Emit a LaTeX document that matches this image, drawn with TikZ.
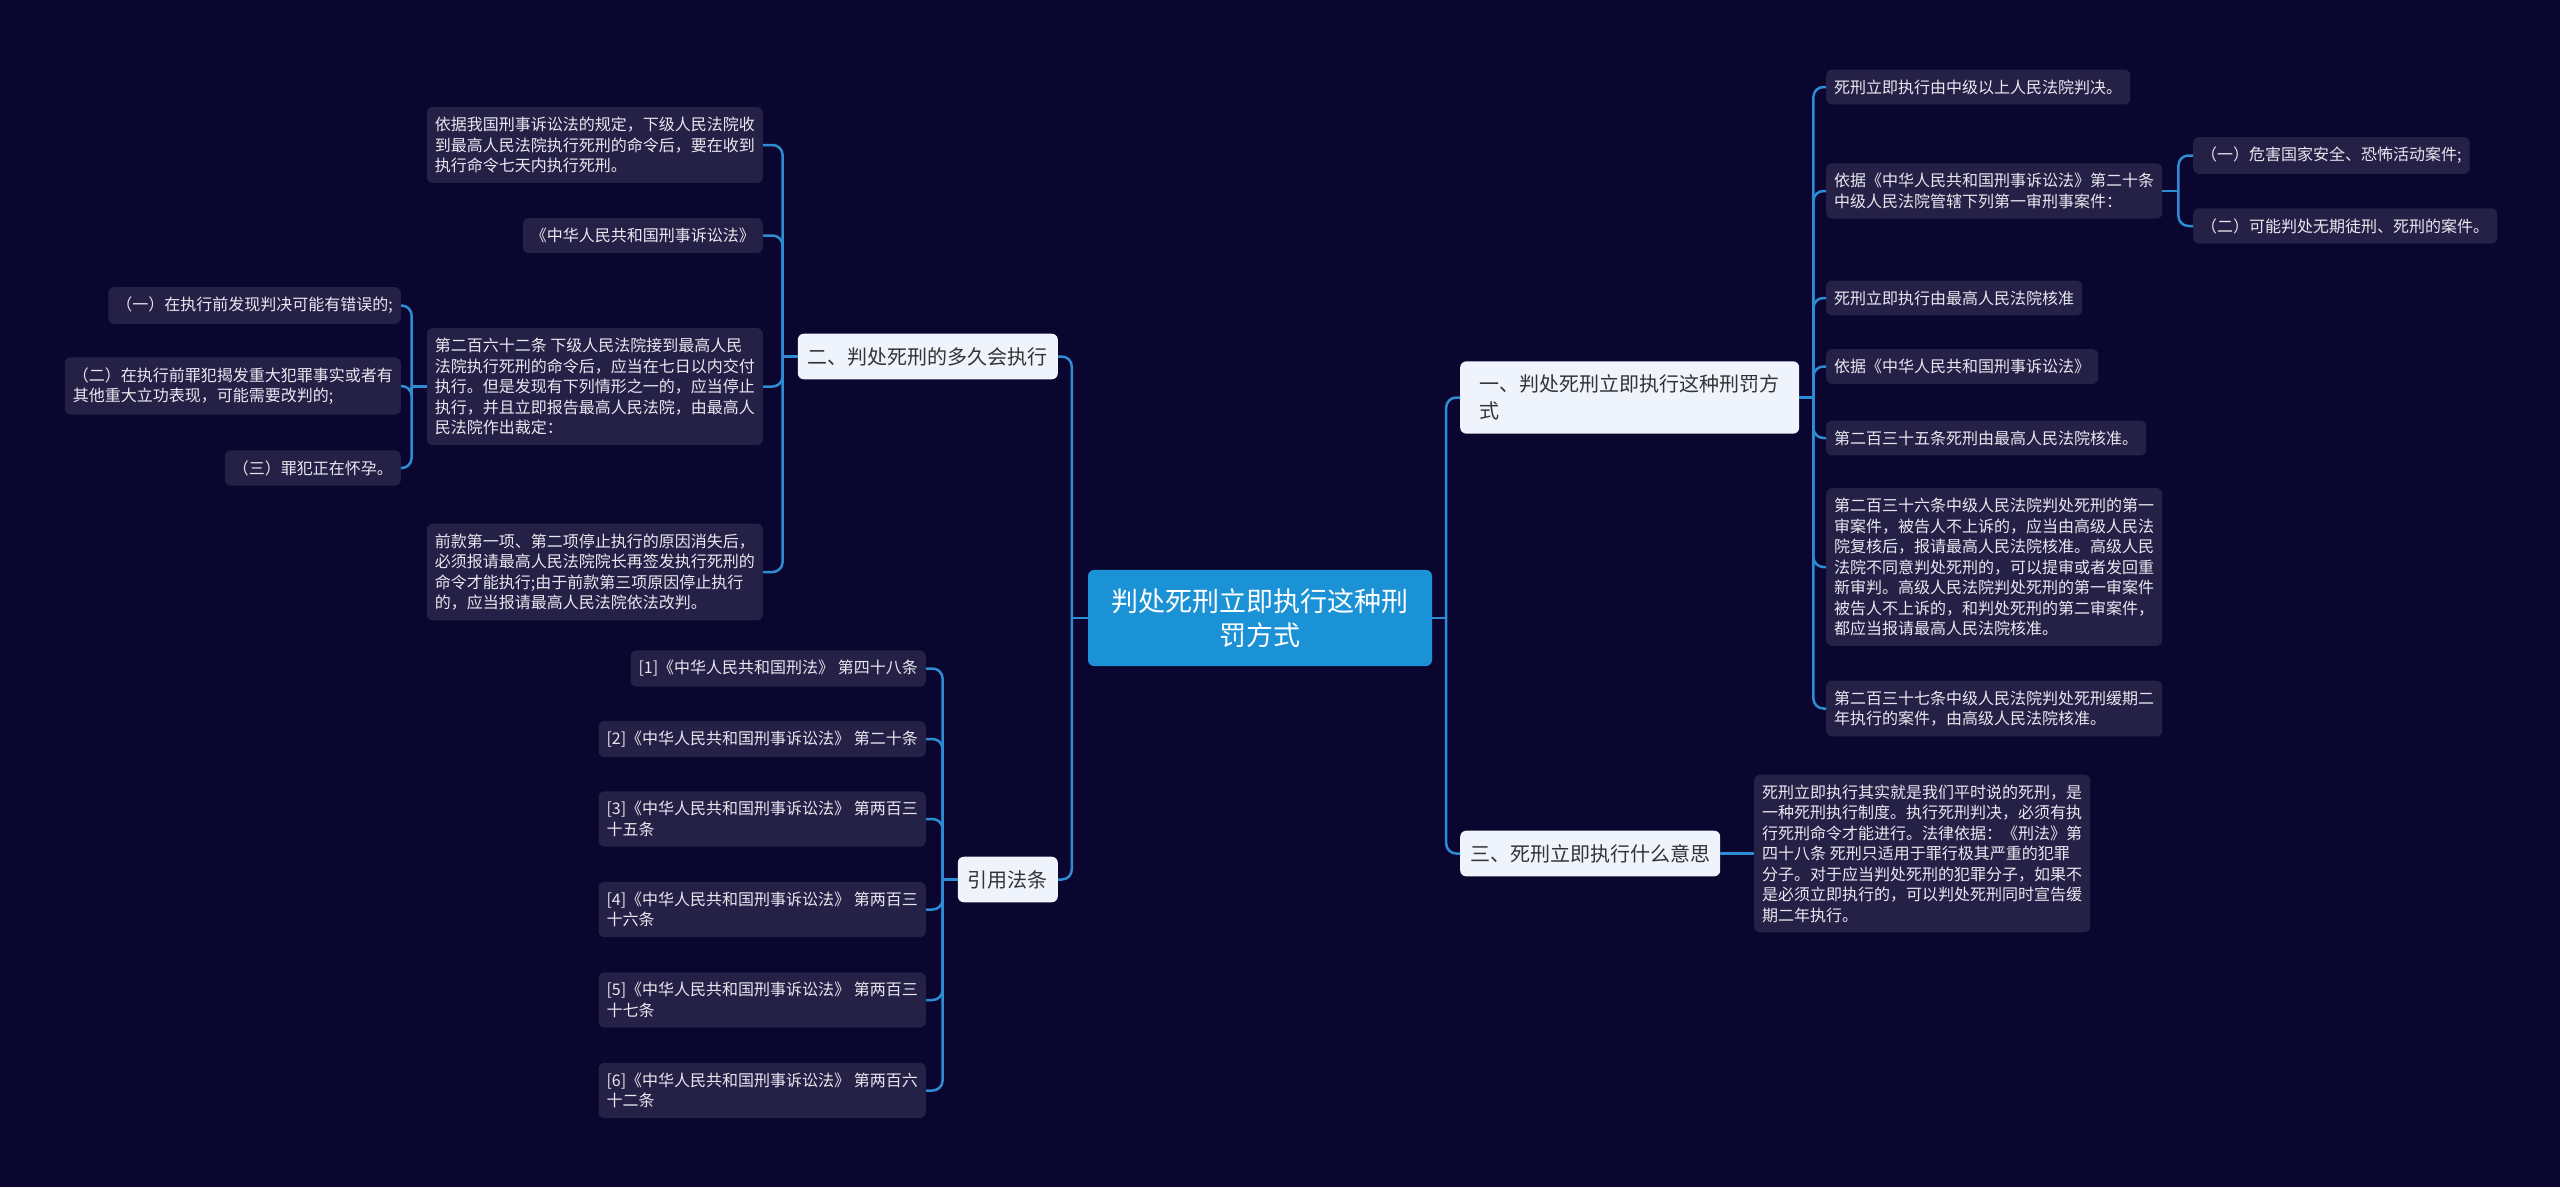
\documentclass[tikz,border=0pt]{standalone}
\usepackage{fontspec}
\setmainfont{Noto Sans CJK SC}
\usepackage{tikz}
\definecolor{pagebg}{HTML}{0A0630}
\definecolor{leafbg}{HTML}{252046}
\definecolor{leaftext}{HTML}{E8E8F0}
\definecolor{branchbg}{HTML}{EEF3FC}
\definecolor{rootbg}{HTML}{1B92D5}
\definecolor{linkblue}{HTML}{2D8CD4}

\begin{document}
\begin{tikzpicture}[
  x=1pt,y=-1pt,
  leaf/.style={fill=leafbg,rounded corners=6pt,align=left,inner xsep=8pt,inner ysep=10pt,text=leaftext,font=\fontsize{16}{20.5}\selectfont},
  branch/.style={fill=branchbg,rounded corners=6pt,align=left,inner xsep=10pt,inner ysep=13.5pt,text=black!80,font=\fontsize{20}{26.7}\selectfont},
  root/.style={fill=rootbg,rounded corners=6pt,align=center,minimum width=344pt,inner ysep=18.5pt,text=white,font=\fontsize{27}{34}\selectfont},
  link/.style={draw=linkblue,line width=2.5pt,rounded corners=10pt}
]
  \fill[pagebg] (0,0) rectangle (2560,1187);

  \node[root] (root) at (1260,618) {判处死刑立即执行这种刑\\罚方式};
  \node[branch,anchor=east] (when) at (1058,356.5) {二、判处死刑的多久会执行};
  \node[branch,anchor=east] (cite) at (1058,879.5) {引用法条};
  \node[branch,anchor=west,minimum width=339pt] (how) at (1460,397.5) {一、判处死刑立即执行这种刑罚方\\式};
  \node[branch,anchor=west] (mean) at (1460,853.5) {三、死刑立即执行什么意思};

  \node[leaf,anchor=east] (w1) at (763,145) {依据我国刑事诉讼法的规定，下级人民法院收\\到最高人民法院执行死刑的命令后，要在收到\\执行命令七天内执行死刑。};
  \node[leaf,anchor=east] (w2) at (763,235.5) {《中华人民共和国刑事诉讼法》};
  \node[leaf,anchor=east] (w3) at (763,386.5) {第二百六十二条 下级人民法院接到最高人民\\法院执行死刑的命令后，应当在七日以内交付\\执行。但是发现有下列情形之一的，应当停止\\执行，并且立即报告最高人民法院，由最高人\\民法院作出裁定：};
  \node[leaf,anchor=east] (w4) at (763,572) {前款第一项、第二项停止执行的原因消失后，\\必须报请最高人民法院院长再签发执行死刑的\\命令才能执行;由于前款第三项原因停止执行\\的，应当报请最高人民法院依法改判。};

  \node[leaf,anchor=east] (r1) at (401,305.5) {（一）在执行前发现判决可能有错误的;};
  \node[leaf,anchor=east] (r2) at (401,386) {（二）在执行前罪犯揭发重大犯罪事实或者有\\其他重大立功表现，可能需要改判的;};
  \node[leaf,anchor=east] (r3) at (401,468) {（三）罪犯正在怀孕。};

  \node[leaf,anchor=east] (c1) at (926,668.5) {[1]《中华人民共和国刑法》 第四十八条};
  \node[leaf,anchor=east] (c2) at (926,739) {[2]《中华人民共和国刑事诉讼法》 第二十条};
  \node[leaf,anchor=east] (c3) at (926,819) {[3]《中华人民共和国刑事诉讼法》 第两百三\\十五条};
  \node[leaf,anchor=east] (c4) at (926,909.5) {[4]《中华人民共和国刑事诉讼法》 第两百三\\十六条};
  \node[leaf,anchor=east] (c5) at (926,1000) {[5]《中华人民共和国刑事诉讼法》 第两百三\\十七条};
  \node[leaf,anchor=east] (c6) at (926,1090.5) {[6]《中华人民共和国刑事诉讼法》 第两百六\\十二条};

  \node[leaf,anchor=west] (h1) at (1826,87) {死刑立即执行由中级以上人民法院判决。};
  \node[leaf,anchor=west] (h2) at (1826,191) {依据《中华人民共和国刑事诉讼法》第二十条\\中级人民法院管辖下列第一审刑事案件：};
  \node[leaf,anchor=west] (h3) at (1826,298) {死刑立即执行由最高人民法院核准};
  \node[leaf,anchor=west] (h4) at (1826,366.5) {依据《中华人民共和国刑事诉讼法》};
  \node[leaf,anchor=west] (h5) at (1826,438) {第二百三十五条死刑由最高人民法院核准。};
  \node[leaf,anchor=west] (h6) at (1826,567) {第二百三十六条中级人民法院判处死刑的第一\\审案件，被告人不上诉的，应当由高级人民法\\院复核后，报请最高人民法院核准。高级人民\\法院不同意判处死刑的，可以提审或者发回重\\新审判。高级人民法院判处死刑的第一审案件\\被告人不上诉的，和判处死刑的第二审案件，\\都应当报请最高人民法院核准。};
  \node[leaf,anchor=west] (h7) at (1826,708.5) {第二百三十七条中级人民法院判处死刑缓期二\\年执行的案件，由高级人民法院核准。};

  \node[leaf,anchor=west] (e1) at (2193,155.5) {（一）危害国家安全、恐怖活动案件;};
  \node[leaf,anchor=west] (e2) at (2193,226) {（二）可能判处无期徒刑、死刑的案件。};

  \node[leaf,anchor=west] (m1) at (1754,853.5) {死刑立即执行其实就是我们平时说的死刑，是\\一种死刑执行制度。执行死刑判决，必须有执\\行死刑命令才能进行。法律依据：《刑法》第\\四十八条 死刑只适用于罪行极其严重的犯罪\\分子。对于应当判处死刑的犯罪分子，如果不\\是必须立即执行的，可以判处死刑同时宣告缓\\期二年执行。};

  \coordinate (rootL) at ([xshift=-16pt]root.west);
  \coordinate (rootR) at ([xshift=14pt]root.east);
  \draw[link] (root.west) -- (rootL);
  \draw[link] (rootL) |- (when.east);
  \draw[link] (rootL) |- (cite.east);
  \draw[link] (root.east) -- (rootR);
  \draw[link] (rootR) |- (how.west);
  \draw[link] (rootR) |- (mean.west);

  \coordinate (whenL) at ([xshift=-15pt]when.west);
  \draw[link] (when.west) -- (whenL);
  \draw[link] (whenL) |- (w1.east);
  \draw[link] (whenL) |- (w2.east);
  \draw[link] (whenL) |- (w3.east);
  \draw[link] (whenL) |- (w4.east);

  \coordinate (w3L) at ([xshift=-15pt]w3.west);
  \draw[link] (w3.west) -- (w3L);
  \draw[link] (w3L) |- (r1.east);
  \draw[link] (w3L) |- (r2.east);
  \draw[link] (w3L) |- (r3.east);

  \coordinate (citeL) at ([xshift=-15pt]cite.west);
  \draw[link] (cite.west) -- (citeL);
  \draw[link] (citeL) |- (c1.east);
  \draw[link] (citeL) |- (c2.east);
  \draw[link] (citeL) |- (c3.east);
  \draw[link] (citeL) |- (c4.east);
  \draw[link] (citeL) |- (c5.east);
  \draw[link] (citeL) |- (c6.east);

  \coordinate (howR) at ([xshift=14pt]how.east);
  \draw[link] (how.east) -- (howR);
  \draw[link] (howR) |- (h1.west);
  \draw[link] (howR) |- (h2.west);
  \draw[link] (howR) |- (h3.west);
  \draw[link] (howR) |- (h4.west);
  \draw[link] (howR) |- (h5.west);
  \draw[link] (howR) |- (h6.west);
  \draw[link] (howR) |- (h7.west);

  \coordinate (h2R) at ([xshift=16pt]h2.east);
  \draw[link] (h2.east) -- (h2R);
  \draw[link] (h2R) |- (e1.west);
  \draw[link] (h2R) |- (e2.west);

  \draw[link] (mean.east) -- (m1.west);
\end{tikzpicture}
\end{document}
